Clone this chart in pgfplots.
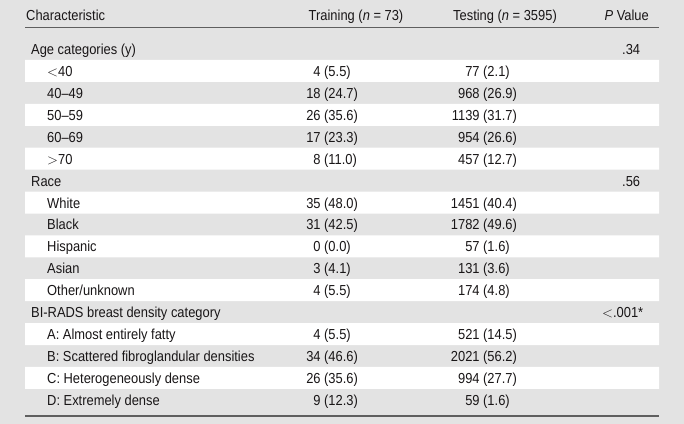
\documentclass[border=0pt]{standalone}
\usepackage{pgfplots}
\pgfplotsset{compat=1.18}
\usepackage{fontspec}
\setmainfont{Liberation Sans}[FakeStretch=0.89]
\definecolor{bggray}{RGB}{227,227,227}
\definecolor{rulegray}{RGB}{95,95,95}
\definecolor{txt}{RGB}{25,22,23}
\newcommand\tf{\fontsize{14.5bp}{17bp}\selectfont}
\begin{document}
\begin{tikzpicture}
\begin{axis}[
  scale only axis, width=684bp, height=424bp,
  xmin=0, xmax=684, ymin=0, ymax=424, y dir=reverse,
  hide axis, clip=false,
  nodes={font=\tf, text=txt, inner sep=0pt},
]
% background
\addplot[fill=bggray, draw=none] coordinates {(0,0) (684,0) (684,424) (0,424) (0,0)};
% white stripes (odd rows)
\addplot[fill=white, draw=none] coordinates {(25,59.9) (659,59.9) (659,81.9) (25,81.9) (25,59.9)};
\addplot[fill=white, draw=none] coordinates {(25,103.8) (659,103.8) (659,125.8) (25,125.8) (25,103.8)};
\addplot[fill=white, draw=none] coordinates {(25,147.7) (659,147.7) (659,169.7) (25,169.7) (25,147.7)};
\addplot[fill=white, draw=none] coordinates {(25,191.5) (659,191.5) (659,213.5) (25,213.5) (25,191.5)};
\addplot[fill=white, draw=none] coordinates {(25,235.4) (659,235.4) (659,257.4) (25,257.4) (25,235.4)};
\addplot[fill=white, draw=none] coordinates {(25,279.2) (659,279.2) (659,301.2) (25,301.2) (25,279.2)};
\addplot[fill=white, draw=none] coordinates {(25,323.1) (659,323.1) (659,345.1) (25,345.1) (25,323.1)};
\addplot[fill=white, draw=none] coordinates {(25,366.9) (659,366.9) (659,388.9) (25,388.9) (25,366.9)};
% rules
\addplot[rulegray, line width=1.3bp] coordinates {(25,27.5) (659,27.5)};
\addplot[rulegray, line width=1.3bp] coordinates {(25,416) (659,416)};
% header
\node[anchor=base west] at (axis cs:26,20.5) {Characteristic};
\node[anchor=base] at (axis cs:356,20.5) {Training (\textit{n} = 73)};
\node[anchor=base] at (axis cs:505,20.5) {Testing (\textit{n} = 3595)};
\node[anchor=base east] at (axis cs:649,20.5) {\textit{P} Value};
% first column
\node[anchor=base west] at (axis cs:31,54.5) {Age categories (y)};
\node[anchor=base west] at (axis cs:47,76.4) {$<$40};
\node[anchor=base west] at (axis cs:47,98.4) {40–49};
\node[anchor=base west] at (axis cs:47,120.3) {50–59};
\node[anchor=base west] at (axis cs:47,142.2) {60–69};
\node[anchor=base west] at (axis cs:47,164.2) {$>$70};
\node[anchor=base west] at (axis cs:31,186.1) {Race};
\node[anchor=base west] at (axis cs:47,208.0) {White};
\node[anchor=base west] at (axis cs:47,229.9) {Black};
\node[anchor=base west] at (axis cs:47,251.9) {Hispanic};
\node[anchor=base west] at (axis cs:47,273.8) {Asian};
\node[anchor=base west] at (axis cs:47,295.7) {Other/unknown};
\node[anchor=base west] at (axis cs:31,317.7) {BI-RADS breast density category};
\node[anchor=base west] at (axis cs:47,339.6) {A: Almost entirely fatty};
\node[anchor=base west] at (axis cs:47,361.5) {B: Scattered fibroglandular densities};
\node[anchor=base west] at (axis cs:47,383.4) {C: Heterogeneously dense};
\node[anchor=base west] at (axis cs:47,405.4) {D: Extremely dense};
% training column
\node[anchor=base west] at (axis cs:324,76.4) {\llap{4 }(5.5)};
\node[anchor=base west] at (axis cs:324,98.4) {\llap{18 }(24.7)};
\node[anchor=base west] at (axis cs:324,120.3) {\llap{26 }(35.6)};
\node[anchor=base west] at (axis cs:324,142.2) {\llap{17 }(23.3)};
\node[anchor=base west] at (axis cs:324,164.2) {\llap{8 }(11.0)};
\node[anchor=base west] at (axis cs:324,208.0) {\llap{35 }(48.0)};
\node[anchor=base west] at (axis cs:324,229.9) {\llap{31 }(42.5)};
\node[anchor=base west] at (axis cs:324,251.9) {\llap{0 }(0.0)};
\node[anchor=base west] at (axis cs:324,273.8) {\llap{3 }(4.1)};
\node[anchor=base west] at (axis cs:324,295.7) {\llap{4 }(5.5)};
\node[anchor=base west] at (axis cs:324,339.6) {\llap{4 }(5.5)};
\node[anchor=base west] at (axis cs:324,361.5) {\llap{34 }(46.6)};
\node[anchor=base west] at (axis cs:324,383.4) {\llap{26 }(35.6)};
\node[anchor=base west] at (axis cs:324,405.4) {\llap{9 }(12.3)};
% testing column
\node[anchor=base west] at (axis cs:483,76.4) {\llap{77 }(2.1)};
\node[anchor=base west] at (axis cs:483,98.4) {\llap{968 }(26.9)};
\node[anchor=base west] at (axis cs:483,120.3) {\llap{1139 }(31.7)};
\node[anchor=base west] at (axis cs:483,142.2) {\llap{954 }(26.6)};
\node[anchor=base west] at (axis cs:483,164.2) {\llap{457 }(12.7)};
\node[anchor=base west] at (axis cs:483,208.0) {\llap{1451 }(40.4)};
\node[anchor=base west] at (axis cs:483,229.9) {\llap{1782 }(49.6)};
\node[anchor=base west] at (axis cs:483,251.9) {\llap{57 }(1.6)};
\node[anchor=base west] at (axis cs:483,273.8) {\llap{131 }(3.6)};
\node[anchor=base west] at (axis cs:483,295.7) {\llap{174 }(4.8)};
\node[anchor=base west] at (axis cs:483,339.6) {\llap{521 }(14.5)};
\node[anchor=base west] at (axis cs:483,361.5) {\llap{2021 }(56.2)};
\node[anchor=base west] at (axis cs:483,383.4) {\llap{994 }(27.7)};
\node[anchor=base west] at (axis cs:483,405.4) {\llap{59 }(1.6)};
% P values
\node[anchor=base west] at (axis cs:622,54.5) {.34};
\node[anchor=base west] at (axis cs:622,186.1) {.56};
\node[anchor=base west] at (axis cs:602,317.7) {$<$.001*};
\end{axis}
\end{tikzpicture}
\end{document}
